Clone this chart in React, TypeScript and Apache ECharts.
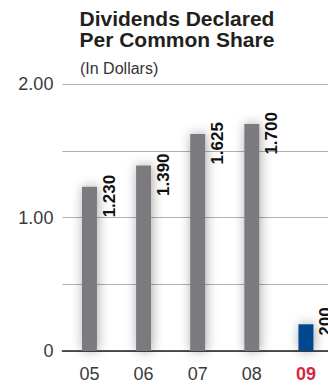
import React, { useEffect, useRef } from "react";
import * as echarts from "echarts";

const categories = ["05", "06", "07", "08", "09"];
const values = [1.23, 1.39, 1.625, 1.7, 0.2];
const valueLabels = ["1.230", "1.390", "1.625", "1.700", ".200"];
const yTickLabels: Record<string, string> = { "0": "0", "1": "1.00", "2": "2.00" };
const titleLines = ["Dividends Declared", "Per Common Share"];
const subtitle = "(In Dollars)";

const FONT = "'Liberation Sans', Arial, Helvetica, sans-serif";
const GRAY = "#7b7a7f";
const BLUE = "#00478f";
const RED = "#d7263d";

export default function App() {
  const ref = useRef<HTMLDivElement>(null);
  useEffect(() => {
    if (!ref.current) return;
    const chart = echarts.init(ref.current, null, { renderer: "svg" });
    const last = categories.length - 1;
    chart.setOption({
      animation: false,
      backgroundColor: "#ffffff",
      title: [
        {
          text: titleLines.join("\n"),
          left: 79.5,
          top: 7.5,
          padding: 0,
          textStyle: {
            fontFamily: FONT,
            fontSize: 21,
            fontWeight: "bold",
            color: "#231f20",
            lineHeight: 21,
          },
        },
        {
          text: subtitle,
          left: 80,
          top: 60.5,
          padding: 0,
          textStyle: {
            fontFamily: FONT,
            fontSize: 16,
            fontWeight: "normal",
            color: "#333333",
            lineHeight: 16,
          },
        },
      ],
      grid: { left: 62.4, top: 84, width: 270.6, height: 267, containLabel: false },
      xAxis: {
        type: "category",
        data: categories.map((c, i) =>
          i === last
            ? { value: c, textStyle: { color: RED, fontWeight: "bold" } }
            : c
        ),
        axisLine: { show: true, lineStyle: { color: "#222222", width: 1.5 } },
        axisTick: { show: false },
        axisLabel: {
          fontFamily: FONT,
          fontSize: 18,
          color: "#3a3a3a",
          margin: 14,
          lineHeight: 18,
        },
      },
      yAxis: {
        type: "value",
        min: 0,
        max: 2,
        interval: 0.5,
        axisLine: { show: false },
        axisTick: { show: false },
        splitLine: { show: true, lineStyle: { color: "#b0b0b0", width: 1.2 } },
        axisLabel: {
          fontFamily: FONT,
          fontSize: 18,
          color: "#3a3a3a",
          margin: 9,
          formatter: (v: number) => yTickLabels[String(v)] ?? "",
        },
      },
      series: [
        {
          type: "bar",
          barWidth: 15,
          data: values.map((v, i) => ({
            value: v,
            itemStyle: { color: i === last ? BLUE : GRAY },
            label: i === last ? { position: [19, -17] } : undefined,
          })),
          itemStyle: {
            shadowBlur: 12,
            shadowColor: "rgba(0,0,0,0.35)",
            shadowOffsetX: 1,
            shadowOffsetY: 0,
          },
          label: {
            show: true,
            position: [19, -12],
            rotate: 90,
            align: "right",
            verticalAlign: "top",
            fontFamily: FONT,
            fontSize: 17,
            fontWeight: "bold",
            color: "#111111",
            formatter: (p: any) => valueLabels[p.dataIndex],
          },
        },
      ],
    });
    return () => chart.dispose();
  }, []);
  return (
    <div
      ref={ref}
      style={{ position: "fixed", left: 0, top: 0, width: 340, height: 386 }}
    />
  );
}
